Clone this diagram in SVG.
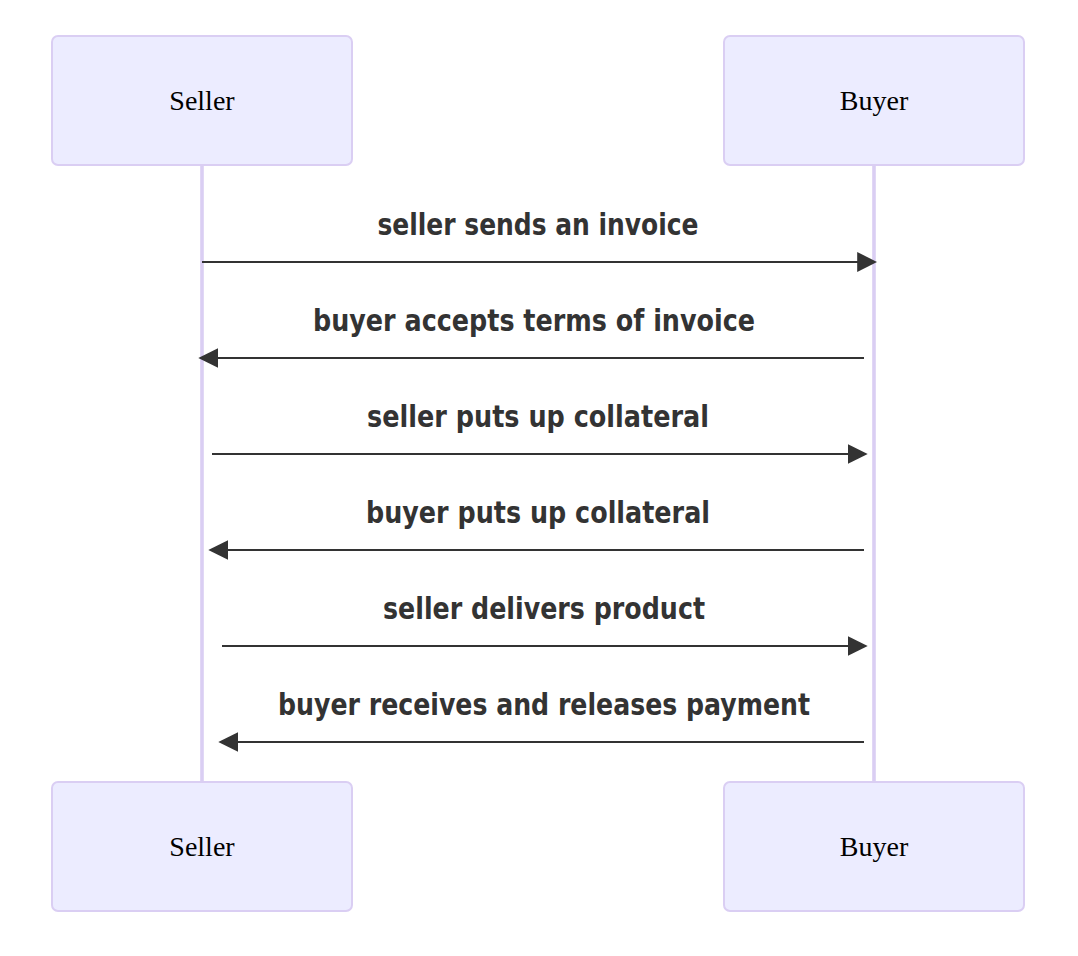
<svg xmlns="http://www.w3.org/2000/svg" width="1078" height="956" viewBox="0 0 1078 956">
<style>
.actor{fill:#ECECFF;stroke:#DACEF3;stroke-width:2}
.actor-text{font-family:"Liberation Serif","Times New Roman",serif;font-size:28px;fill:#000;text-anchor:middle}
.lifeline{stroke:#DACEF3;stroke-width:3.6}
.msg{stroke:#333;stroke-width:2;fill:none}
.msg-text{font-family:"DejaVu Sans Condensed","DejaVu Sans",sans-serif;font-stretch:condensed;font-weight:bold;font-size:31px;fill:#333;text-anchor:middle}
</style>
<defs>
<marker id="arrowhead" viewBox="0 0 10 10" refX="7.9" refY="5" markerWidth="10" markerHeight="10" orient="auto">
<path d="M0,0 L10,5 L0,10 z" fill="#333"/>
</marker>
</defs>
<rect width="1078" height="956" fill="#fff"/>
<g id="lifelines">
<line class="lifeline" x1="202" y1="165" x2="202" y2="782"/>
<line class="lifeline" x1="874" y1="165" x2="874" y2="782"/>
</g>
<g id="actor-seller-top"><rect class="actor" x="52" y="36" width="300" height="129" rx="6"/><text class="actor-text" x="202" y="110">Seller</text></g>
<g id="actor-buyer-top"><rect class="actor" x="724" y="36" width="300" height="129" rx="6"/><text class="actor-text" x="874" y="110">Buyer</text></g>
<g id="actor-seller-bottom"><rect class="actor" x="52" y="782" width="300" height="129" rx="6"/><text class="actor-text" x="202" y="856">Seller</text></g>
<g id="actor-buyer-bottom"><rect class="actor" x="724" y="782" width="300" height="129" rx="6"/><text class="actor-text" x="874" y="856">Buyer</text></g>
<g id="connectors">
<line class="msg" x1="202" y1="262" x2="873" y2="262" marker-end="url(#arrowhead)"/>
<line class="msg" x1="864" y1="358" x2="202.5" y2="358" marker-end="url(#arrowhead)"/>
<line class="msg" x1="212" y1="454" x2="863.5" y2="454" marker-end="url(#arrowhead)"/>
<line class="msg" x1="864" y1="550" x2="212.5" y2="550" marker-end="url(#arrowhead)"/>
<line class="msg" x1="222" y1="646" x2="863.5" y2="646" marker-end="url(#arrowhead)"/>
<line class="msg" x1="864" y1="742" x2="222.5" y2="742" marker-end="url(#arrowhead)"/>
</g>
<g id="labels">
<text class="msg-text" x="538" y="235" textLength="321" lengthAdjust="spacingAndGlyphs">seller sends an invoice</text>
<text class="msg-text" x="534" y="331" textLength="442" lengthAdjust="spacingAndGlyphs">buyer accepts terms of invoice</text>
<text class="msg-text" x="538" y="427" textLength="342" lengthAdjust="spacingAndGlyphs">seller puts up collateral</text>
<text class="msg-text" x="538" y="523" textLength="344" lengthAdjust="spacingAndGlyphs">buyer puts up collateral</text>
<text class="msg-text" x="544" y="619" textLength="322" lengthAdjust="spacingAndGlyphs">seller delivers product</text>
<text class="msg-text" x="544" y="715" textLength="532" lengthAdjust="spacingAndGlyphs">buyer receives and releases payment</text>
</g>
</svg>
